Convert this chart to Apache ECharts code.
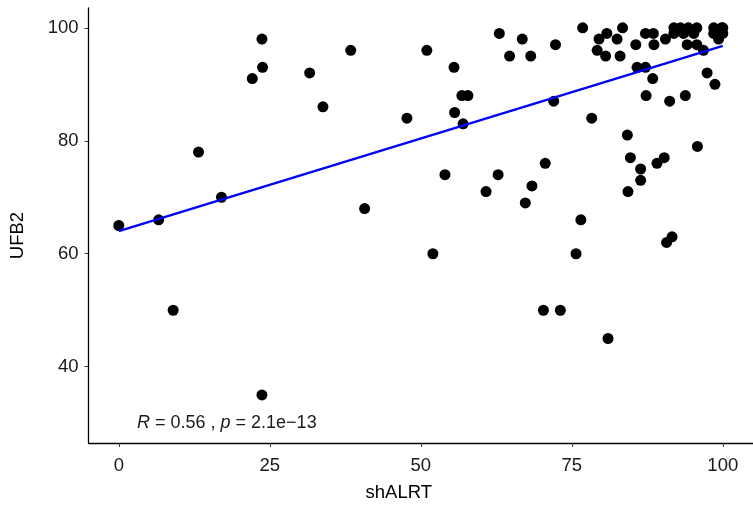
<!DOCTYPE html>
<html>
<head>
<meta charset="utf-8">
<script src="https://cdn.jsdelivr.net/npm/echarts@6/dist/echarts.min.js"></script>
<style>html,body{margin:0;padding:0;background:#fff;}#c{width:753px;height:511px;}</style>
</head>
<body>
<div id="c"></div>
<script>
// shALRT (x) values of each point
const shALRT = [0,6.6,9,13.2,17,22.1,23.7,23.8,23.7,31.6,33.8,38.4,40.7,47.7,51,52,54,55.5,55.6,56.8,57.8,57,60.8,62.8,63,64.7,66.8,67.3,68.2,68.4,70.3,70.6,72,72.3,73.1,75.7,76.5,76.8,78.3,79.2,79.5,80.8,80.6,81,82.5,83,83.4,84.2,84.3,84.7,85.6,85.8,86.4,86.4,87.2,87.2,87.3,88.4,88.6,88.5,89.1,90.3,90.5,90.7,91.2,91.6,91.9,91.9,93,93.5,93.8,94.1,94.3,95.2,95.7,95.7,95.8,96.8,97.4,98.5,98.5,98.7,99.3,99.8,99.8,100,100];
// UFB2 (y) values of each point
const UFB2 = [65,66,50,78,70,91,98,93,35,92,86,96,68,84,96,60,74,93,85,88,88,83,71,74,99,95,98,69,95,72,50,76,87,97,50,60,66,100,84,96,98,99,95,45,98,95,100,81,71,77,97,93,75,73,93,99,88,91,97,99,76,77,98,62,87,63,99,100,100,99,88,97,100,99,97,100,79,96,92,100,99,90,98,100,99,100,99];
// fitted regression line
const fitX = [0, 100];
const fitY = [64, 96.8];
// tick values
const xTicks = [0, 25, 50, 75, 100];
const yTicks = [40, 60, 80, 100];
const corrLabel = {R: '0.56', p: '2.1e\u221213'};

const chart = echarts.init(document.getElementById('c'), null, {renderer: 'canvas'});
const font = 'Liberation Sans, Arial, Helvetica, sans-serif';
const pts = shALRT.map((x, i) => [x, UFB2[i]]);
const fit = fitX.map((x, i) => [x, fitY[i]]);

chart.setOption({
  animation: false,
  backgroundColor: '#ffffff',
  grid: {left: 88.6, right: -3.4, top: 8, bottom: 68, containLabel: false},
  xAxis: {
    type: 'value', min: -5, max: 105, interval: 25,
    name: 'shALRT', nameLocation: 'middle', nameGap: 40,
    nameTextStyle: {fontFamily: font, fontSize: 18.5, color: '#000', padding: [0, 44, 0, 0]},
    axisLine: {show: true, onZero: false, lineStyle: {color: '#000', width: 1.3}},
    axisTick: {show: true, length: 4, lineStyle: {color: '#333', width: 1}, customValues: xTicks},
    axisLabel: {fontFamily: font, fontSize: 18.5, color: '#1a1a1a', margin: 13, customValues: xTicks},
    splitLine: {show: false}
  },
  yAxis: {
    type: 'value', min: 26.5, max: 103.5,
    name: 'UFB2', nameLocation: 'middle', nameGap: 61, nameRotate: 90,
    nameTextStyle: {fontFamily: font, fontSize: 18.5, color: '#000', padding: [0, 20, 0, 0]},
    axisLine: {show: true, onZero: false, lineStyle: {color: '#000', width: 1.3}},
    axisTick: {show: true, length: 4, lineStyle: {color: '#333', width: 1}, customValues: yTicks},
    axisLabel: {fontFamily: font, fontSize: 18.5, color: '#1a1a1a', margin: 10, customValues: yTicks},
    splitLine: {show: false}
  },
  series: [
    {
      type: 'scatter', data: pts, symbol: 'circle', symbolSize: 11,
      itemStyle: {color: '#000', opacity: 1}, z: 2
    },
    {
      type: 'line', data: fit, showSymbol: false, symbol: 'none',
      lineStyle: {color: '#0000ff', width: 2.5}, z: 3
    }
  ],
  graphic: [{
    type: 'text', left: 137, top: 414,
    style: {
      text: '{i|R} = ' + corrLabel.R + ' , {i|p} = ' + corrLabel.p,
      fontFamily: font, fontSize: 18, fill: '#1a1a1a',
      rich: {i: {fontStyle: 'italic', fontFamily: font, fontSize: 18, fill: '#1a1a1a', color: '#1a1a1a'}}
    }
  }]
});
</script>
</body>
</html>
